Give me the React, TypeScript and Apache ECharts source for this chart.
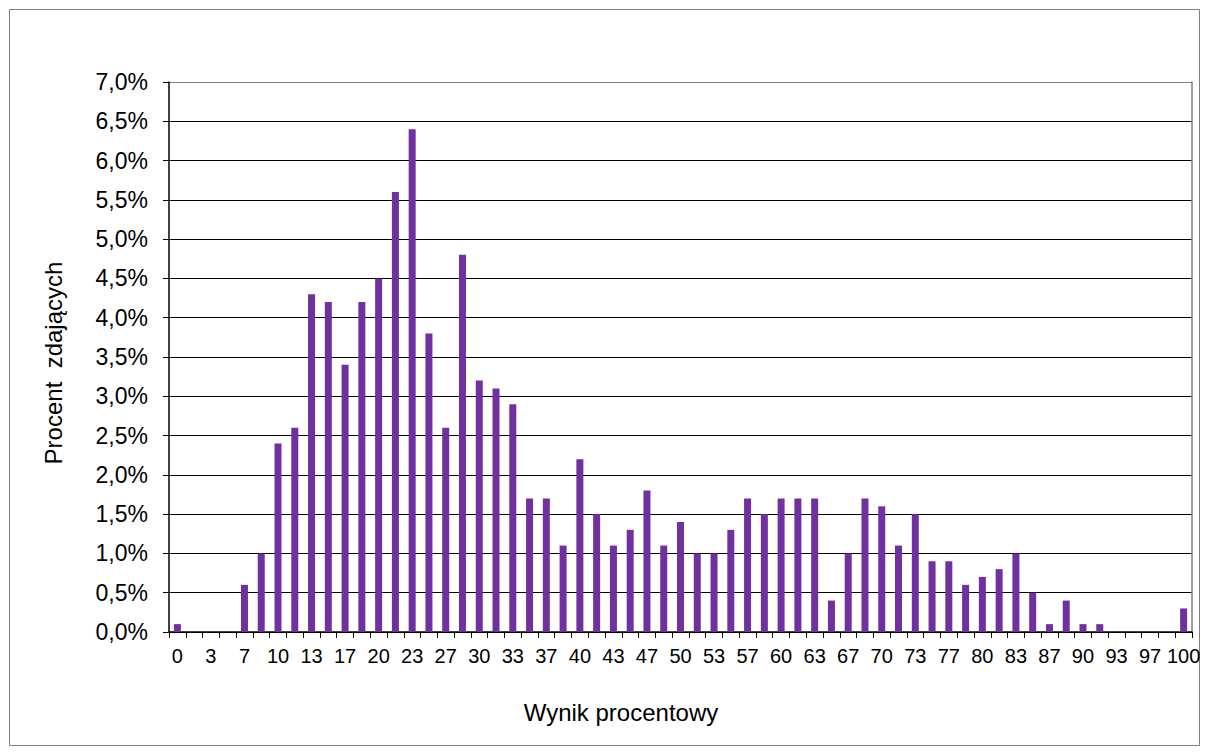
import React, { useEffect, useRef } from "react";
import * as echarts from "echarts";

const categories = [
  "0", "2", "3", "5", "7", "8", "10", "12", "13", "15", "17", "18", "20", "22", "23", "25",
  "27", "28", "30", "32", "33", "35", "37", "38", "40", "42", "43", "45", "47", "48", "50",
  "52", "53", "55", "57", "58", "60", "62", "63", "65", "67", "68", "70", "72", "73", "75",
  "77", "78", "80", "82", "83", "85", "87", "88", "90", "92", "93", "95", "97", "98", "100",
];

const percentValues = [
  0.1, 0, 0, 0, 0.6, 1.0, 2.4, 2.6, 4.3, 4.2, 3.4, 4.2, 4.5, 5.6, 6.4, 3.8,
  2.6, 4.8, 3.2, 3.1, 2.9, 1.7, 1.7, 1.1, 2.2, 1.5, 1.1, 1.3, 1.8, 1.1, 1.4,
  1.0, 1.0, 1.3, 1.7, 1.5, 1.7, 1.7, 1.7, 0.4, 1.0, 1.7, 1.6, 1.1, 1.5, 0.9,
  0.9, 0.6, 0.7, 0.8, 1.0, 0.5, 0.1, 0.4, 0.1, 0.1, 0, 0, 0, 0, 0.3,
];

const xTitle = "Wynik procentowy";
const yTitle = "Procent  zdających";

const FONT = "'Liberation Sans', Arial, sans-serif";

export default function App() {
  const ref = useRef<HTMLDivElement>(null);
  useEffect(() => {
    if (!ref.current) return;
    const chart = echarts.init(ref.current, null, { renderer: "svg" });
    chart.setOption({
      animation: false,
      backgroundColor: "#ffffff",
      grid: {
        left: 169,
        top: 82,
        right: 16,
        bottom: 122,
        show: false,
      },
      xAxis: {
        type: "category",
        data: categories,
        boundaryGap: true,
        axisLine: { show: true, lineStyle: { color: "#000", width: 1.5 } },
        axisTick: { show: true, interval: 0, length: 6, lineStyle: { color: "#000" } },
        axisLabel: {
          interval: 1,
          color: "#000",
          fontSize: 20,
          fontFamily: FONT,
          margin: 14,
        },
        splitLine: { show: false },
      },
      yAxis: [
        {
          type: "value",
          min: 0,
          max: 7,
          interval: 0.5,
          axisLine: { show: true, lineStyle: { color: "#000", width: 1.5 } },
          axisTick: { show: true, length: 6, lineStyle: { color: "#000" } },
          axisLabel: {
            color: "#000",
            fontSize: 23,
            fontFamily: FONT,
            margin: 21,
            formatter: (v: number) => v.toFixed(1).replace(".", ",") + "%",
          },
          splitLine: {
            show: true,
            lineStyle: {
              color: ["#000", "#000", "#000", "#000", "#000", "#000", "#000", "#000", "#000", "#000", "#000", "#000", "#000", "#000", "#808080"],
              width: 1,
            },
          },
        },
        {
          type: "value",
          position: "right",
          min: 0,
          max: 7,
          interval: 0.5,
          axisLine: { show: true, lineStyle: { color: "#808080", width: 1.5 } },
          axisTick: { show: false },
          axisLabel: { show: false },
          splitLine: { show: false },
        },
      ],
      series: [
        {
          type: "bar",
          data: percentValues,
          barWidth: 7,
          itemStyle: { color: "#7030A0" },
        },
      ],
      graphic: [
        {
          type: "rect",
          shape: { x: 9.5, y: 9.5, width: 1190, height: 736 },
          style: { fill: "none", stroke: "#808080", lineWidth: 1 },
          silent: true,
        },
        {
          type: "text",
          x: 621,
          y: 712,
          style: {
            text: xTitle,
            fontSize: 24,
            fontFamily: FONT,
            fill: "#000",
            textAlign: "center",
            textVerticalAlign: "middle",
          },
        },
        {
          type: "text",
          x: 53,
          y: 363,
          rotation: Math.PI / 2,
          style: {
            text: yTitle,
            fontSize: 24,
            fontFamily: FONT,
            fill: "#000",
            textAlign: "center",
            textVerticalAlign: "middle",
          },
        },
      ],
    });
    return () => chart.dispose();
  }, []);
  return (
    <div
      ref={ref}
      style={{ position: "absolute", left: 0, top: 0, width: 1208, height: 754, background: "#fff" }}
    />
  );
}
